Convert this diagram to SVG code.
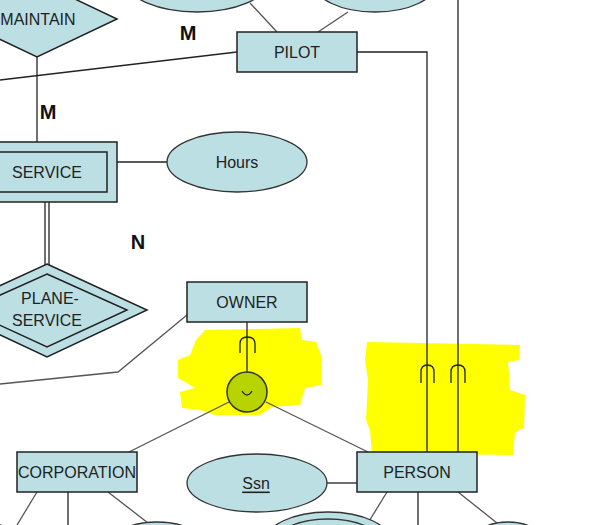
<svg xmlns="http://www.w3.org/2000/svg" width="593" height="525" viewBox="0 0 593 525">
<style>
.ent{fill:#bbdfe3;stroke:#222;stroke-width:1.5}
.att{fill:#bbdfe3;stroke:#333;stroke-width:1.3}
.ln{fill:none;stroke:#222;stroke-width:1.3}
.gl{fill:none;stroke:#555;stroke-width:1.3}
.t{font-family:"Liberation Sans",Arial,sans-serif;font-size:16px;fill:#222;text-anchor:middle;dominant-baseline:central}
.c{font-family:"Liberation Sans",Arial,sans-serif;font-size:20px;font-weight:bold;fill:#111;text-anchor:middle;dominant-baseline:central}
.hl{fill:#ffff00;stroke:none}
</style>
<rect width="593" height="525" fill="#fff"/>
<g id="highlights">
<path class="hl" d="M205 330 L300 328 L302 340 L316 342 L322 358 L321 385 L305 388 L300 405 L272 407 L260 415 L215 415 L200 410 L182 408 L180 392 L195 388 L178 378 L178 360 L190 355 L196 340 Z"/>
<path class="hl" d="M367 342 L520 345 L519 360 L508 362 L510 390 L525 395 L524 428 L515 432 L513 455 L372 453 L370 430 L366 420 L368 380 L365 360 Z"/>
</g>
<g id="connectors">
<line class="gl" x1="250" y1="3" x2="277" y2="32"/>
<line class="gl" x1="348" y1="12" x2="318" y2="32"/>
<line class="ln" x1="237" y1="52" x2="0" y2="80"/>
<line class="ln" x1="37" y1="57" x2="37" y2="142"/>
<line class="ln" x1="117" y1="162" x2="167" y2="162"/>
<line class="ln" x1="45" y1="202" x2="45" y2="266"/>
<line class="ln" x1="49" y1="202" x2="49" y2="266"/>
<polyline class="gl" points="187,315 118,372 0,384"/>
<polyline class="ln" points="357,52 427,52 427,452"/>
<line class="ln" x1="458" y1="0" x2="458" y2="452"/>
<line class="ln" x1="247" y1="322" x2="247" y2="372"/>
<line class="gl" x1="229" y1="402" x2="129" y2="452"/>
<line class="gl" x1="266" y1="402" x2="368" y2="452"/>
<line class="ln" x1="327" y1="483" x2="357" y2="483"/>
<line class="gl" x1="37" y1="492" x2="17" y2="525"/>
<line class="ln" x1="68" y1="492" x2="68" y2="525"/>
<line class="gl" x1="108" y1="492" x2="148" y2="523"/>
<line class="gl" x1="387" y1="492" x2="368" y2="523"/>
<line class="ln" x1="418" y1="492" x2="418" y2="525"/>
<line class="gl" x1="458" y1="492" x2="497" y2="523"/>
<path class="ln" d="M240 353 V344 Q240 337 247.5 337 Q255 337 255 344 V353"/>
<path class="ln" d="M421 383 V372 Q421 365 427.5 365 Q434 365 434 372 V383"/>
<path class="ln" d="M451 383 V372 Q451 365 458 365 Q465 365 465 372 V383"/>
</g>
<g id="attr-top1"><ellipse class="att" cx="197" cy="-18" rx="70" ry="30"/></g>
<g id="attr-top2"><ellipse class="att" cx="375" cy="-18" rx="62" ry="30"/></g>
<g id="maintain">
<polygon class="ent" points="37,-19 117,19 37,57 -43,19"/>
<text class="t" x="38" y="19">MAINTAIN</text>
</g>
<g id="pilot">
<rect class="ent" x="237" y="32" width="120" height="40"/>
<text class="t" x="297" y="52">PILOT</text>
</g>
<g id="service">
<rect class="ent" x="-10" y="142" width="127" height="60"/>
<rect class="ent" x="-10" y="152" width="117" height="40"/>
<text class="t" x="47" y="172">SERVICE</text>
</g>
<g id="hours">
<ellipse class="att" cx="237" cy="162" rx="70" ry="30"/>
<text class="t" x="237" y="162">Hours</text>
</g>
<g id="plane-service">
<polygon class="ent" points="47,264 147,310 47,357 -53,310"/>
<polygon class="ent" points="47,274 127,310 47,347 -33,310"/>
<text class="t" x="50" y="298">PLANE-</text>
<text class="t" x="47" y="320">SERVICE</text>
</g>
<g id="owner">
<rect class="ent" x="187" y="282" width="120" height="40"/>
<text class="t" x="247" y="302">OWNER</text>
</g>
<g id="union">
<circle cx="247" cy="392" r="20" fill="#b8d400" stroke="#333" stroke-width="1.5"/>
<path class="ln" d="M242 391 Q247 399 252 391"/>
</g>
<g id="corporation">
<rect class="ent" x="17" y="452" width="120" height="40"/>
<text class="t" x="77" y="472">CORPORATION</text>
</g>
<g id="ssn">
<ellipse class="att" cx="257" cy="483" rx="70" ry="29"/>
<text class="t" x="256" y="483" text-decoration="underline">Ssn</text>
</g>
<g id="person">
<rect class="ent" x="357" y="452" width="120" height="40"/>
<text class="t" x="417" y="472">PERSON</text>
</g>
<g id="attr-bottom-left"><ellipse class="att" cx="-15" cy="545" rx="35" ry="22"/></g>
<g id="attr-bottom2"><ellipse class="att" cx="157" cy="548" rx="50" ry="26"/></g>
<g id="attr-bottom3">
<ellipse class="att" cx="328" cy="542" rx="63" ry="30"/>
<ellipse class="att" cx="328" cy="545" rx="55" ry="26"/>
</g>
<g id="attr-bottom4"><ellipse class="att" cx="508" cy="548" rx="40" ry="26"/></g>
<g id="labels">
<text class="c" x="188" y="33">M</text>
<text class="c" x="48" y="112">M</text>
<text class="c" x="138" y="242">N</text>
</g>
</svg>
